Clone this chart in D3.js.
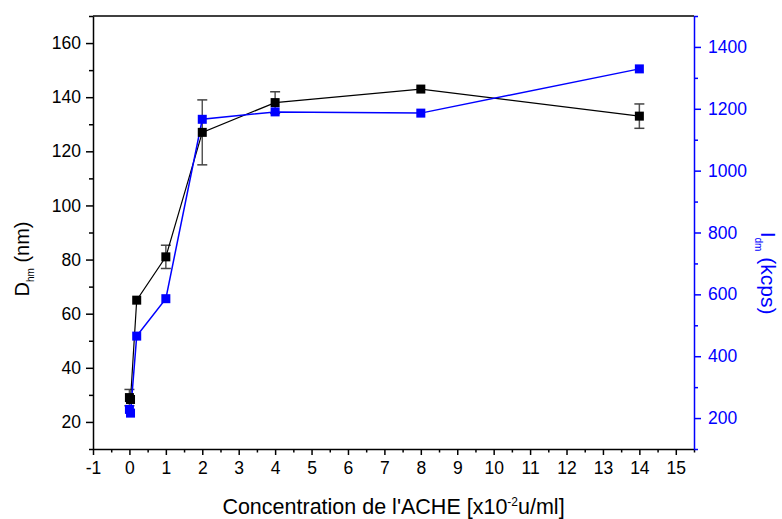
<!DOCTYPE html>
<html>
<head>
<meta charset="utf-8">
<script src="https://cdn.jsdelivr.net/npm/d3@7"></script>
<style>
  html, body { margin: 0; padding: 0; background: #fff; }
  svg { display: block; font-family: "Liberation Sans", Arial, sans-serif; }
</style>
</head>
<body>
<svg id="chart" width="782" height="519"></svg>
<script>
// ---- data ----
const concentration = [0, 0.03, 0.2, 1, 2, 4, 8, 14];
const diameter = [29, 28.3, 65, 81, 127, 138, 143, 133];        // D_hm (nm)
const diameterErr = [3, 0, 0, 4.3, 12, 4, 0, 4.5];
const intensity = [228, 216, 465, 586, 1166, 1190, 1186, 1329]; // I_dm (kcps)
const xTicks = [-1, 0, 1, 2, 3, 4, 5, 6, 7, 8, 9, 10, 11, 12, 13, 14, 15];
const yLeftTicks = [20, 40, 60, 80, 100, 120, 140, 160];
const yRightTicks = [200, 400, 600, 800, 1000, 1200, 1400];

// ---- layout ----
const svg = d3.select("#chart");
const L = 93, R = 694, T = 16, B = 449;
const blue = "#0000ff";
const fmt = d => String(d);

const x = d3.scaleLinear().domain([-1, 15.5]).range([L, R]);
const yL = d3.scaleLinear().domain([10, 170]).range([B, T]);
const yR = d3.scaleLinear().domain([100, 1500]).range([B, T]);

// frame top line
svg.append("line").attr("x1", L).attr("x2", R).attr("y1", T).attr("y2", T)
  .attr("stroke", "#000").attr("stroke-width", 1.5);

function styleAxis(g, color) {
  g.select(".domain").attr("stroke", color).attr("stroke-width", 1.5);
  g.selectAll(".tick line").attr("stroke", color).attr("stroke-width", 1.5);
  g.selectAll(".tick text").attr("fill", color).style("font-size", "17.5px")
    .style("font-family", "'Liberation Sans', Arial, sans-serif");
}

// x minor
const xMinor = d3.range(-0.5, 15.51, 1);
svg.append("g").attr("transform", `translate(0,${B})`)
  .call(d3.axisBottom(x).tickValues(xMinor).tickSize(3.5).tickFormat(""))
  .call(g => { g.select(".domain").remove(); g.selectAll(".tick line").attr("stroke", "#000").attr("stroke-width", 1.5); });
const gx = svg.append("g").attr("transform", `translate(0,${B})`)
  .call(d3.axisBottom(x).tickValues(xTicks).tickSize(6).tickSizeOuter(0).tickPadding(7).tickFormat(fmt));
styleAxis(gx, "#000");

// left minor
const yLMinor = d3.range(10, 170.1, 20);
svg.append("g").attr("transform", `translate(${L},0)`)
  .call(d3.axisLeft(yL).tickValues(yLMinor).tickSize(4).tickFormat(""))
  .call(g => { g.select(".domain").remove(); g.selectAll(".tick line").attr("stroke", "#000").attr("stroke-width", 1.5); });
const gyl = svg.append("g").attr("transform", `translate(${L},0)`)
  .call(d3.axisLeft(yL).tickValues(yLeftTicks).tickSize(7).tickSizeOuter(0).tickPadding(5).tickFormat(fmt));
styleAxis(gyl, "#000");

// right minor
const yRMinor = d3.range(100, 1500.1, 200);
svg.append("g").attr("transform", `translate(${R},0)`)
  .call(d3.axisRight(yR).tickValues(yRMinor).tickSize(4).tickFormat(""))
  .call(g => { g.select(".domain").remove(); g.selectAll(".tick line").attr("stroke", blue).attr("stroke-width", 1.5); });
const gyr = svg.append("g").attr("transform", `translate(${R},0)`)
  .call(d3.axisRight(yR).tickValues(yRightTicks).tickSize(7).tickSizeOuter(0).tickPadding(7).tickFormat(fmt));
styleAxis(gyr, blue);

// ---- series ----
const blackData = concentration.map((c, i) => ({ x: c, y: diameter[i], e: diameterErr[i] }));
const blueData = concentration.map((c, i) => ({ x: c, y: intensity[i] }));

const errG = svg.append("g");
blackData.filter(d => d.e > 0).forEach(d => {
  const cx = x(d.x), y1 = yL(d.y + d.e), y2 = yL(d.y - d.e);
  errG.append("line").attr("x1", cx).attr("x2", cx).attr("y1", y1).attr("y2", y2)
    .attr("stroke", "#555").attr("stroke-width", 1.5);
  [y1, y2].forEach(yy => errG.append("line").attr("x1", cx - 5).attr("x2", cx + 5)
    .attr("y1", yy).attr("y2", yy).attr("stroke", "#444").attr("stroke-width", 1.5));
});

svg.append("path").datum(blackData)
  .attr("d", d3.line().x(d => x(d.x)).y(d => yL(d.y)))
  .attr("fill", "none").attr("stroke", "#000").attr("stroke-width", 1.2);

svg.append("path").datum(blueData)
  .attr("d", d3.line().x(d => x(d.x)).y(d => yR(d.y)))
  .attr("fill", "none").attr("stroke", blue).attr("stroke-width", 1.5);

const S = 9;
svg.append("g").selectAll("rect").data(blackData).join("rect")
  .attr("x", d => x(d.x) - S / 2).attr("y", d => yL(d.y) - S / 2)
  .attr("width", S).attr("height", S).attr("fill", "#000");

svg.append("g").selectAll("rect").data(blueData).join("rect")
  .attr("x", d => x(d.x) - S / 2).attr("y", d => yR(d.y) - S / 2)
  .attr("width", S).attr("height", S).attr("fill", blue);

// ---- axis titles ----
const xt = svg.append("text").attr("x", (L + R) / 2).attr("y", 514)
  .attr("text-anchor", "middle").style("font-size", "21.5px").attr("fill", "#000");
xt.append("tspan").text("Concentration de l'ACHE [x10");
xt.append("tspan").text("-2").attr("dy", -8).style("font-size", "12px");
xt.append("tspan").text("u/ml]").attr("dy", 8);

const yt = svg.append("text").attr("transform", "translate(29,259) rotate(-90)")
  .attr("text-anchor", "middle").style("font-size", "20px").attr("fill", "#000");
yt.append("tspan").text("D");
yt.append("tspan").text("hm").attr("dy", 5).style("font-size", "10px");
yt.append("tspan").text(" (nm)").attr("dy", -5);

const yrt = svg.append("text").attr("transform", "translate(761,273) rotate(90)")
  .attr("text-anchor", "middle").style("font-size", "21px").attr("fill", blue);
yrt.append("tspan").text("I");
yrt.append("tspan").text("dm").attr("dy", 6).style("font-size", "10px");
yrt.append("tspan").text(" (kcps)").attr("dy", -6);
</script>
</body>
</html>
